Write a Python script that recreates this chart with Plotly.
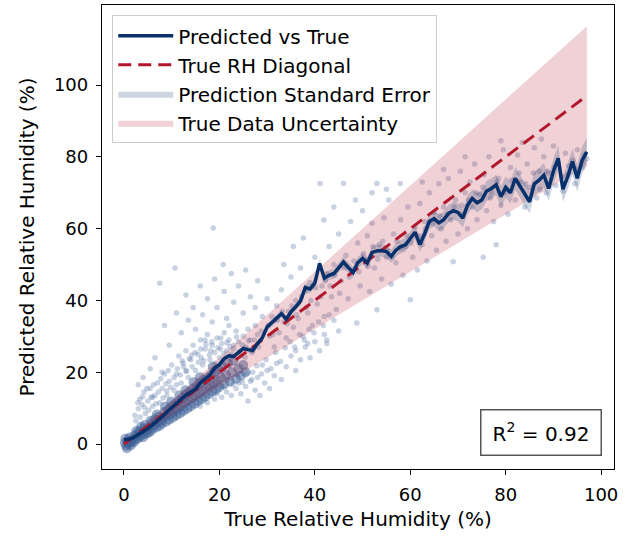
import plotly.graph_objects as go

# ---------------- data ----------------
true_rh_bins = list(range(0, 98))
pred_mean = [
    1.2, 1.3, 1.8, 2.6, 3.5, 4.3, 5.4, 6.4, 7.6, 8.9,
    10.2, 11.4, 12.5, 13.6, 14.5, 15.3, 17.0, 18.0, 19.2, 21.2,
    22.1, 23.8, 24.6, 24.4, 25.6, 26.6, 26.3, 26.1, 28.0, 29.6,
    32.6, 33.8, 34.8, 36.3, 34.8, 36.8, 38.2, 39.8, 43.6, 43.2,
    44.8, 50.3, 46.2, 47.0, 47.5, 49.2, 50.7, 49.2, 47.8, 50.5,
    51.7, 50.4, 53.4, 53.8, 53.9, 53.6, 52.3, 54.0, 55.0, 55.5,
    57.2, 59.0, 55.6, 58.5, 62.0, 62.8, 61.6, 62.5, 64.2, 65.0,
    64.5, 62.9, 66.5, 68.4, 67.2, 68.0, 70.5, 71.2, 72.2, 68.9,
    71.5, 70.0, 74.0, 71.8, 69.5, 67.5, 72.5, 73.5, 74.9, 71.2,
    76.0, 79.6, 71.0, 74.5, 78.7, 74.0, 79.0, 81.4,
]
pred_se = [
    0.3, 0.3, 0.3, 0.3, 0.3, 0.3, 0.35, 0.35, 0.35, 0.4,
    0.4, 0.4, 0.45, 0.45, 0.5, 0.5, 0.5, 0.55, 0.55, 0.6,
    0.6, 0.65, 0.65, 0.7, 0.7, 0.75, 0.8, 0.8, 0.85, 0.9,
    0.9, 0.95, 1.0, 1.0, 1.05, 1.1, 1.1, 1.15, 1.2, 1.2,
    1.3, 1.3, 1.35, 1.4, 1.4, 1.45, 1.5, 1.5, 1.55, 1.6,
    1.6, 1.65, 1.7, 1.7, 1.75, 1.8, 1.8, 1.85, 1.9, 1.9,
    2.0, 2.0, 2.1, 2.1, 2.2, 2.2, 2.3, 2.3, 2.4, 2.4,
    2.5, 2.5, 2.6, 2.6, 2.7, 2.7, 2.8, 2.8, 2.9, 2.9,
    3.0, 3.0, 3.1, 3.1, 3.2, 3.2, 3.3, 3.3, 3.4, 3.4,
    3.5, 3.5, 3.6, 3.6, 3.7, 3.7, 3.8, 3.8,
]

diag_x = [0, 97]
diag_y = [0, 97]
band_x = [0, 97]
band_lo = [0, 77.6]
band_hi = [0, 116.4]

# dense core of observations (true, predicted)
core_points = [
    (0.2, 0.3), (0.5, -0.5), (0.8, 1.0), (1.0, 0.2), (1.2, 1.8), (1.5, 0.6), (1.8, 1.2), (2.0, 0.4),
    (2.2, 2.3), (0.3, 1.5), (0.6, -1.2), (1.4, -0.4),
    (2.5, 1.2), (2.8, 2.8), (3.0, 1.6), (3.2, 3.5), (3.5, 2.2), (3.8, 3.0), (4.0, 1.9), (4.2, 4.4),
    (4.5, 2.8), (4.8, 3.9), (5.0, 3.1), (2.6, 3.6), (3.6, 4.8), (4.4, 5.3),
    (5.3, 4.6), (5.5, 3.4), (5.8, 5.8), (6.0, 4.2), (6.3, 5.2), (6.5, 6.9), (6.8, 4.6), (7.0, 6.0),
    (7.3, 7.6), (7.5, 5.1), (7.8, 6.6), (8.0, 5.7), (5.6, 6.5), (6.9, 8.2),
    (8.3, 7.4), (8.5, 8.9), (8.8, 6.2), (9.0, 7.8), (9.3, 9.6), (9.5, 6.8), (9.8, 8.4), (10.0, 10.5),
    (10.3, 7.4), (10.5, 9.1), (10.8, 11.2), (11.0, 8.0), (8.6, 10.4), (9.9, 11.8),
    (11.3, 9.8), (11.5, 12.0), (11.8, 8.6), (12.0, 10.6), (12.3, 12.9), (12.5, 9.3), (12.8, 11.5),
    (13.0, 13.8), (13.3, 9.9), (13.5, 12.2), (13.8, 14.6), (14.0, 10.5), (11.6, 13.5), (12.9, 15.0),
    (14.3, 12.9), (14.5, 15.4), (14.8, 11.2), (15.0, 13.5), (15.3, 16.0), (15.5, 11.9), (15.8, 14.2),
    (16.0, 17.0), (16.3, 12.5), (16.5, 15.0), (16.8, 17.8), (17.0, 13.2), (14.6, 17.2), (15.9, 18.6),
    (17.3, 15.8), (17.5, 18.5), (17.8, 13.9), (18.0, 16.4), (18.3, 19.3), (18.5, 14.6), (18.8, 17.0),
    (19.0, 20.2), (19.3, 15.2), (19.5, 17.8), (19.8, 20.8), (20.0, 15.9), (18.6, 21.5),
    (20.3, 18.5), (20.6, 21.5), (21.0, 16.6), (21.4, 19.2), (21.8, 22.4), (22.2, 17.4), (22.6, 20.0),
    (23.0, 23.2), (23.5, 18.2), (24.0, 21.0), (24.5, 19.0), (25.0, 22.0), (25.5, 20.0),
]

# sparser observations
spread_points = [
    # cloud above the core
    (2.5, 6.5), (3.0, 9.8), (3.3, 12.5), (3.8, 11.0), (4.2, 14.5), (4.5, 8.5), (5.0, 12.0), (5.5, 15.5),
    (6.0, 10.5), (6.5, 13.5), (7.0, 17.0), (7.5, 11.5), (8.0, 15.5), (8.5, 19.5), (9.0, 13.5), (9.5, 17.5),
    (10.0, 22.0), (10.5, 15.0), (11.0, 19.5), (11.5, 24.5), (12.0, 17.0), (12.5, 21.5), (13.0, 26.0),
    (13.5, 18.5), (14.0, 23.5), (14.5, 27.5), (15.0, 20.5), (15.5, 25.0), (16.0, 29.0), (16.5, 22.0),
    (17.0, 26.5), (17.5, 30.5), (18.0, 23.5), (18.5, 27.5), (19.0, 25.5), (19.5, 29.5), (20.0, 24.0),
    (20.5, 28.0), (21.0, 31.0), (21.5, 26.0), (22.0, 29.0), (22.5, 25.0), (23.0, 27.5), (23.5, 31.5),
    (24.0, 28.5), (24.5, 24.5), (25.0, 30.0), (25.5, 27.0), (26.0, 32.0), (26.5, 29.0), (27.0, 26.0),
    (27.5, 33.0), (28.0, 30.5), (12.2, 23.2), (14.2, 24.8), (16.2, 24.0), (18.2, 26.0), (20.2, 26.5),
    (22.2, 27.2), (11.0, 16.5), (13.0, 20.5), (9.0, 14.8),
    # shoulder
    (10.5, 18.5), (11.2, 21.0), (11.8, 19.2), (12.4, 22.5), (13.1, 20.2), (13.7, 23.8), (14.3, 21.5),
    (14.9, 25.5), (15.6, 22.8), (16.1, 26.5), (16.7, 23.2), (17.2, 27.8), (17.9, 24.8), (18.4, 28.5),
    (19.1, 22.6), (19.7, 26.8), (20.3, 29.5), (20.9, 25.2), (21.6, 28.2), (22.3, 23.8), (22.9, 26.5),
    (23.6, 29.8), (24.2, 25.8), (24.8, 27.6), (25.4, 24.2), (26.1, 28.8), (26.8, 25.5), (27.4, 29.0),
    (28.2, 27.0), (28.8, 31.5),
    (2.3, 8.0), (2.9, 11.5), (3.4, 7.5), (3.9, 13.2), (4.3, 10.2), (4.8, 15.5), (5.2, 9.5), (5.7, 13.0),
    (6.2, 16.5), (6.7, 11.2), (7.2, 14.5), (7.7, 18.2), (8.2, 12.8), (8.8, 16.8), (9.3, 20.5), (9.8, 15.8),
    # below the core
    (16.0, 10.5), (17.5, 11.5), (19.0, 12.5), (20.5, 13.0), (21.5, 14.5), (22.5, 13.5), (23.5, 15.5),
    (24.5, 14.0), (25.5, 16.0), (26.0, 12.0), (26.5, 17.5), (27.5, 15.0), (28.0, 18.5), (28.5, 13.5),
    (29.5, 17.0), (30.0, 20.5), (30.5, 15.5), (31.5, 19.0), (32.0, 22.5), (33.0, 18.0), (34.0, 21.5),
    (35.0, 24.5), (36.0, 20.5), (37.0, 23.5), (38.0, 27.0), (39.0, 24.0), (40.0, 28.5), (41.0, 26.0),
    (42.0, 30.5), (42.5, 28.0), (19.5, 14.0), (24.0, 17.0), (27.0, 20.0), (29.0, 22.0),
    (20.8, 16.0), (21.8, 18.0), (22.8, 16.5), (23.8, 19.2), (24.8, 17.2), (25.8, 19.8), (26.8, 18.0),
    (27.8, 21.8), (28.8, 19.5), (29.8, 23.5), (30.8, 21.0), (31.8, 25.5), (32.8, 23.0), (33.8, 26.8),
    (34.8, 28.5), (35.8, 27.0), (36.8, 30.5), (37.8, 29.0), (38.8, 32.0), (39.8, 31.0), (40.8, 34.0),
    (41.8, 33.0), (43.0, 36.0), (44.0, 34.5),
    # sparse high outliers
    (3.0, 16.5), (4.0, 18.5), (5.5, 21.0), (6.5, 24.0), (7.5, 44.8), (8.5, 33.0), (9.5, 27.5),
    (10.7, 49.0), (11.0, 36.5), (12.0, 31.0), (13.0, 41.5), (13.5, 34.5), (14.5, 38.0), (15.0, 32.0),
    (16.0, 44.0), (16.5, 36.0), (17.5, 40.5), (18.5, 34.0), (19.0, 46.0), (19.5, 38.0), (20.8, 50.0),
    (21.0, 42.5), (21.5, 35.0), (22.5, 47.5), (23.0, 39.5), (24.0, 44.0), (25.0, 36.5), (25.5, 48.5),
    (26.5, 41.0), (27.5, 38.0), (28.0, 45.5), (29.0, 35.5), (30.0, 40.5), (18.7, 60.2), (22.0, 33.0),
    (17.0, 29.0), (6.0, 13.0), (8.0, 20.0),
    # mid range
    (30.5, 30.0), (31.0, 35.5), (31.5, 27.0), (32.0, 38.5), (32.5, 31.0), (33.0, 43.0), (33.5, 34.0),
    (34.0, 29.5), (34.5, 37.0), (35.0, 46.5), (35.5, 32.5), (36.0, 40.0), (36.5, 35.0), (37.0, 49.0),
    (37.6, 57.4), (37.5, 30.0), (38.0, 42.5), (38.5, 36.5), (39.0, 45.0), (39.5, 33.0), (40.0, 52.0),
    (40.5, 39.0), (41.1, 72.6), (41.5, 44.0), (41.9, 62.4), (42.0, 35.5), (42.5, 47.5), (43.0, 55.0),
    (43.5, 41.0), (44.0, 50.0), (44.5, 37.5), (45.0, 58.5), (45.5, 45.5), (46.0, 72.6), (46.5, 52.5),
    (47.0, 40.5), (47.5, 62.0), (48.0, 48.5), (48.8, 33.7), (49.0, 56.0), (49.5, 44.0), (50.0, 65.0),
    (50.5, 51.5), (51.0, 58.0), (51.5, 42.5), (52.0, 61.5), (52.5, 49.0), (53.0, 72.6), (53.0, 37.4),
    (53.5, 55.5), (54.0, 46.0), (54.5, 63.0), (55.0, 52.0), (55.5, 68.0), (56.0, 44.5), (56.5, 58.5),
    (57.0, 50.5), (57.9, 72.6), (58.0, 62.5), (58.5, 47.0), (59.0, 55.0), (59.5, 66.0), (60.0, 40.2),
    (42.5, 29.0), (45.0, 31.5), (36.0, 26.0), (38.5, 28.0), (33.5, 50.0), (35.5, 55.0), (44.0, 66.0),
    (48.5, 68.0), (52.0, 70.0), (55.0, 71.0),
    (30.2, 33.0), (31.2, 30.5), (32.2, 34.5), (33.2, 37.0), (34.2, 33.5), (35.2, 38.5), (36.2, 36.0),
    (37.2, 41.0), (38.2, 38.0), (39.2, 40.0), (40.2, 43.5), (41.2, 41.0), (42.2, 45.5), (43.2, 44.0),
    (44.2, 47.0), (45.2, 42.0), (46.2, 49.0), (47.2, 46.5), (48.2, 51.0), (49.2, 48.0), (50.2, 53.0),
    (51.2, 49.5), (52.2, 55.0), (53.2, 51.5), (54.2, 56.5), (55.2, 54.0), (56.2, 52.0), (57.2, 56.5),
    (58.2, 54.5), (59.2, 58.0),
    # high range
    (60.5, 52.0), (61.0, 60.5), (61.5, 48.5), (62.0, 67.0), (62.5, 55.5), (63.0, 62.0), (63.5, 51.0),
    (64.0, 70.0), (64.5, 58.0), (65.0, 64.5), (65.5, 54.0), (66.0, 72.5), (66.5, 60.0), (67.0, 66.0),
    (67.5, 56.5), (68.0, 74.0), (68.5, 62.5), (69.0, 50.8), (69.5, 68.0), (70.0, 58.5), (70.5, 76.0),
    (71.0, 64.0), (71.5, 70.0), (72.0, 60.0), (72.5, 73.0), (73.0, 66.0), (73.5, 78.0), (74.0, 62.5),
    (74.5, 69.5), (75.3, 52.0), (75.5, 75.0), (76.0, 65.0), (76.5, 80.0), (77.0, 70.0), (77.5, 62.0),
    (78.0, 55.5), (78.5, 74.0), (79.0, 66.5), (79.5, 82.0), (80.0, 71.0), (80.5, 64.0), (81.0, 77.0),
    (82.0, 68.0), (82.5, 80.5), (83.0, 73.0), (84.0, 66.0), (84.5, 78.0), (85.0, 71.5), (86.0, 82.5),
    (86.5, 68.5), (87.0, 76.0), (88.0, 80.0), (88.5, 70.0), (89.0, 75.5), (90.0, 83.0), (90.5, 72.0),
    (91.0, 78.0), (92.0, 70.5), (92.5, 81.0), (93.0, 75.0), (94.0, 79.0), (94.5, 72.5), (95.0, 82.0),
    (96.0, 77.0), (96.5, 80.5), (97.0, 79.5), (87.5, 85.0), (83.5, 84.0), (79.0, 84.5), (71.5, 80.0),
    (67.0, 76.5), (62.5, 73.0),
    (60.2, 56.0), (61.8, 58.0), (63.2, 60.0), (64.8, 61.5), (66.2, 63.5), (67.8, 64.0), (69.2, 66.0),
    (70.8, 66.5), (72.2, 68.0), (73.8, 70.0), (75.2, 71.5), (76.8, 68.5), (78.2, 73.0), (79.8, 70.0),
    (81.2, 73.5), (82.8, 75.5), (84.2, 72.5), (85.8, 75.5), (87.2, 71.0), (88.8, 76.0), (90.2, 77.0),
    (91.8, 74.5), (93.2, 77.5), (94.8, 76.5), (96.2, 78.5),
]

x_ticks = [0, 20, 40, 60, 80, 100]
y_ticks = [0, 20, 40, 60, 80, 100]
r2_value = 0.92

# ---------------- styling ----------------
NAVY = "#08306b"
RED = "#b2182b"
PT = "rgb(60,95,150)"
FONT = "DejaVu Sans"

fig = go.Figure()

core_x = [p[0] for p in core_points]
core_y = [p[1] for p in core_points]
spr_x = [p[0] for p in spread_points]
spr_y = [p[1] for p in spread_points]

fig.add_trace(go.Scatter(x=spr_x, y=spr_y, mode="markers",
                         marker=dict(size=5.5, color=PT, opacity=0.28, line=dict(width=0)),
                         showlegend=False, hoverinfo="skip"))
fig.add_trace(go.Scatter(x=core_x, y=core_y, mode="markers",
                         marker=dict(size=10, color=PT, opacity=0.5, line=dict(width=0)),
                         showlegend=False, hoverinfo="skip"))

# pink uncertainty band
fig.add_trace(go.Scatter(x=band_x + band_x[::-1], y=band_hi + band_lo[::-1],
                         fill="toself", fillcolor="rgba(178,24,43,0.2)", mode="lines",
                         line=dict(width=0), name="True Data Uncertainty",
                         legendrank=4, legendgroup="d"))

# SE band
se_hi = [m + s for m, s in zip(pred_mean, pred_se)]
se_lo = [m - s for m, s in zip(pred_mean, pred_se)]
fig.add_trace(go.Scatter(x=true_rh_bins + true_rh_bins[::-1], y=se_hi + se_lo[::-1],
                         fill="toself", fillcolor="rgba(8,48,107,0.2)", mode="lines",
                         line=dict(width=0), name="Prediction Standard Error",
                         legendrank=3, legendgroup="c"))

fig.add_trace(go.Scatter(x=diag_x, y=diag_y, mode="lines",
                         line=dict(color=RED, width=3, dash="13px,7px"),
                         name="True RH Diagonal", legendrank=2, legendgroup="b"))

fig.add_trace(go.Scatter(x=true_rh_bins, y=pred_mean, mode="lines",
                         line=dict(color=NAVY, width=3.5),
                         name="Predicted vs True", legendrank=1, legendgroup="a"))

fig.add_annotation(x=0.858, y=0.079, xref="paper", yref="paper",
                   text=f"R<sup>2</sup> = {r2_value:.2f}", showarrow=False,
                   font=dict(family=FONT, size=20, color="black"),
                   bordercolor="#555555", borderwidth=1.5, borderpad=2,
                   bgcolor="white", width=115, height=40,
                   xanchor="center", yanchor="middle")

axis_common = dict(showline=True, mirror=True, linecolor="black", linewidth=1.3,
                   ticks="outside", ticklen=5, tickwidth=1.3, tickcolor="black",
                   showgrid=False, zeroline=False, ticklabelstandoff=4,
                   tickfont=dict(family=FONT, size=18, color="black"))

fig.update_layout(
    width=631, height=540,
    margin=dict(l=102, r=17, t=5, b=71),
    plot_bgcolor="white", paper_bgcolor="white",
    font=dict(family=FONT, size=20, color="black"),
    xaxis=dict(range=[-4.6, 102.7], tickvals=x_ticks,
               title=dict(text="True Relative Humidity (%)", standoff=8,
                          font=dict(family=FONT, size=20)),
               **axis_common),
    yaxis=dict(range=[-6.96, 122.3], tickvals=y_ticks,
               title=dict(text="Predicted Relative Humidity (%)", standoff=13,
                          font=dict(family=FONT, size=20)),
               **axis_common),
    legend=dict(x=0.02, y=0.978, xanchor="left", yanchor="top",
                bgcolor="rgba(255,255,255,0.8)", bordercolor="#cccccc", borderwidth=1,
                font=dict(family=FONT, size=20), tracegroupgap=8, itemwidth=55,
                traceorder="normal"),
)

fig.write_html("out.html", config={"displayModeBar": False},
               post_script="document.body.style.margin='0';")
